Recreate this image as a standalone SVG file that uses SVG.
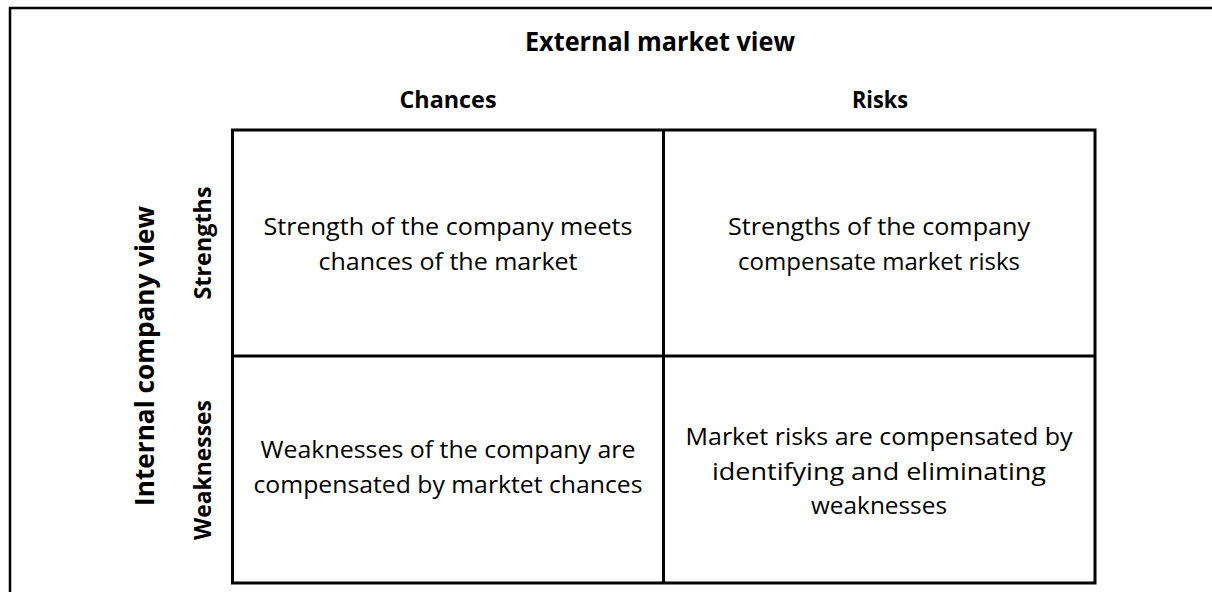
<svg xmlns="http://www.w3.org/2000/svg" width="1212" height="592" viewBox="0 0 1212 592">
  <style>
    .frame { fill: none; stroke: #000; stroke-width: 2.5; }
    .grid { fill: none; stroke: #000; stroke-width: 3; }
    .head { font-family: "Open Sans", "Liberation Sans", sans-serif; font-weight: bold; fill: #000; text-anchor: middle; }
    .cell { font-family: "Open Sans", "Liberation Sans", sans-serif; font-size: 24px; fill: #000; text-anchor: middle; }
  </style>
  <rect width="1212" height="592" fill="#fff"/>

  <!-- page frame (left and top edges) -->
  <path class="frame" d="M10,592 V8 H1212"/>

  <!-- axis headings -->
  <g id="external-view">
    <text class="head" x="660" y="51" font-size="27" textLength="270" lengthAdjust="spacingAndGlyphs">External market view</text>
  </g>
  <g id="col-chances">
    <text class="head" x="448" y="108" font-size="23" textLength="97" lengthAdjust="spacingAndGlyphs">Chances</text>
  </g>
  <g id="col-risks">
    <text class="head" x="880" y="108" font-size="23" textLength="56" lengthAdjust="spacingAndGlyphs">Risks</text>
  </g>
  <g id="internal-view">
    <text class="head" transform="translate(154,356) rotate(-90)" font-size="27" textLength="300" lengthAdjust="spacingAndGlyphs">Internal company view</text>
  </g>
  <g id="row-strengths">
    <text class="head" transform="translate(211,243) rotate(-90)" font-size="23" textLength="113" lengthAdjust="spacingAndGlyphs">Strengths</text>
  </g>
  <g id="row-weaknesses">
    <text class="head" transform="translate(211,470) rotate(-90)" font-size="23" textLength="140" lengthAdjust="spacingAndGlyphs">Weaknesses</text>
  </g>

  <!-- matrix grid -->
  <g id="connectors">
    <rect class="grid" x="232.5" y="130" width="862.5" height="453"/>
    <line class="grid" x1="663.5" y1="130" x2="663.5" y2="583"/>
    <line class="grid" x1="232.5" y1="356" x2="1095" y2="356"/>
  </g>

  <!-- quadrant texts -->
  <g id="cell-so">
    <text class="cell" x="448" y="235" textLength="369" lengthAdjust="spacingAndGlyphs">Strength of the company meets</text>
    <text class="cell" x="448" y="270" textLength="259" lengthAdjust="spacingAndGlyphs">chances of the market</text>
  </g>
  <g id="cell-st">
    <text class="cell" x="879" y="235" textLength="302" lengthAdjust="spacingAndGlyphs">Strengths of the company</text>
    <text class="cell" x="879" y="270" textLength="282" lengthAdjust="spacingAndGlyphs">compensate market risks</text>
  </g>
  <g id="cell-wo">
    <text class="cell" x="448" y="458" textLength="375" lengthAdjust="spacingAndGlyphs">Weaknesses of the company are</text>
    <text class="cell" x="448" y="493" textLength="389" lengthAdjust="spacingAndGlyphs">compensated by marktet chances</text>
  </g>
  <g id="cell-wt">
    <text class="cell" x="879" y="445" textLength="387" lengthAdjust="spacingAndGlyphs">Market risks are compensated by</text>
    <text class="cell" x="879" y="480" textLength="334" lengthAdjust="spacingAndGlyphs">identifying and eliminating</text>
    <text class="cell" x="879" y="514" textLength="136" lengthAdjust="spacingAndGlyphs">weaknesses</text>
  </g>
</svg>
